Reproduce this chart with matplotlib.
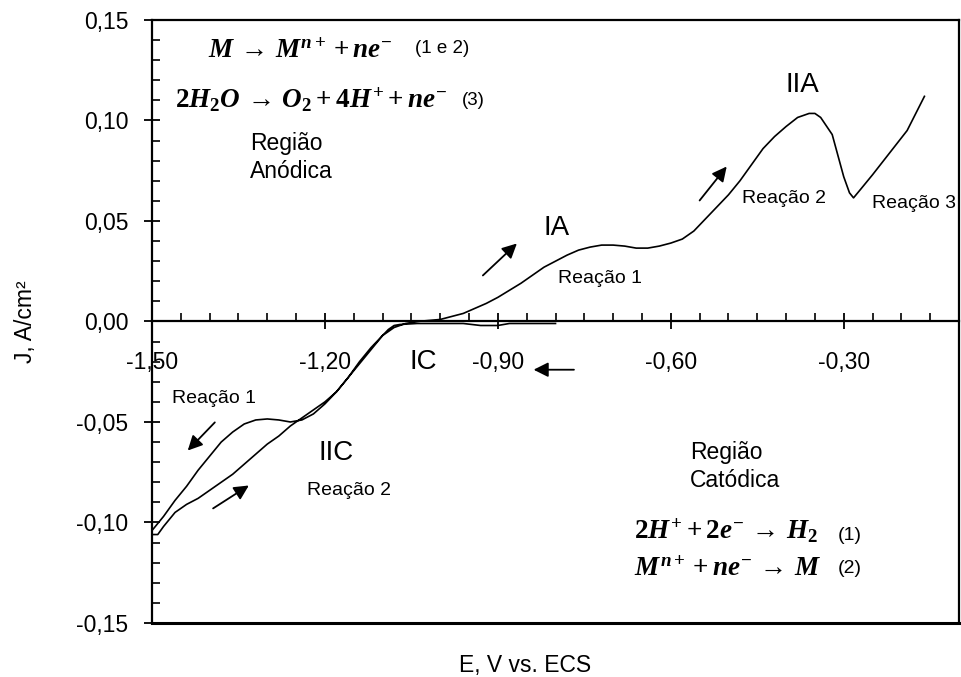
import matplotlib
matplotlib.use("Agg")
from matplotlib import pyplot as plt
from matplotlib.ticker import MultipleLocator

plt.rcParams["font.family"] = ["Liberation Sans", "DejaVu Sans"]
plt.rcParams["mathtext.fontset"] = "custom"
plt.rcParams["mathtext.rm"] = "Liberation Serif:bold"
plt.rcParams["mathtext.it"] = "Liberation Serif:italic:bold"
plt.rcParams["mathtext.bf"] = "Liberation Serif:bold"

# cathodic sweep (from -0.80 V towards -1.50 V)
E_cat = [-0.80, -0.85, -0.88, -0.90, -0.93, -0.96, -1.00, -1.04, -1.07, -1.08,
         -1.09, -1.10, -1.12, -1.14, -1.16, -1.18, -1.20, -1.22, -1.24, -1.26,
         -1.28, -1.30, -1.32, -1.34, -1.36, -1.38, -1.40, -1.42, -1.44, -1.46,
         -1.48, -1.50]
J_cat = [-0.001, -0.001, -0.001, -0.002, -0.002, -0.001, -0.001, -0.001, -0.0015, -0.002,
         -0.004, -0.007, -0.014, -0.021, -0.028, -0.035, -0.041, -0.046, -0.049, -0.050,
         -0.049, -0.0485, -0.049, -0.051, -0.055, -0.060, -0.067, -0.074, -0.082, -0.089,
         -0.097, -0.104]

# anodic sweep (from -1.50 V back up to -0.16 V)
E_an = [-1.50, -1.49, -1.48, -1.46, -1.44, -1.42, -1.40, -1.38, -1.36, -1.34,
        -1.32, -1.30, -1.28, -1.26, -1.24, -1.22, -1.20, -1.18, -1.16, -1.14,
        -1.12, -1.10, -1.08, -1.06, -1.04, -1.00, -0.96, -0.94, -0.92, -0.90,
        -0.88, -0.86, -0.84, -0.82, -0.80, -0.78, -0.76, -0.74, -0.72, -0.70,
        -0.68, -0.66, -0.64, -0.62, -0.60, -0.58, -0.56, -0.54, -0.52, -0.50,
        -0.48, -0.46, -0.44, -0.42, -0.40, -0.38, -0.36, -0.35, -0.34, -0.32,
        -0.30, -0.29, -0.283, -0.27, -0.25, -0.22, -0.19, -0.16]
J_an = [-0.106, -0.106, -0.102, -0.095, -0.091, -0.088, -0.084, -0.080, -0.076, -0.071,
        -0.066, -0.061, -0.057, -0.052, -0.048, -0.044, -0.040, -0.035, -0.028, -0.020,
        -0.013, -0.007, -0.003, -0.001, 0.000, 0.001, 0.004, 0.0065, 0.009, 0.012,
        0.0155, 0.019, 0.023, 0.027, 0.030, 0.033, 0.0355, 0.037, 0.038, 0.038,
        0.0375, 0.0365, 0.0365, 0.0375, 0.039, 0.041, 0.045, 0.051, 0.057, 0.063,
        0.070, 0.078, 0.086, 0.092, 0.097, 0.1015, 0.1035, 0.1035, 0.1015, 0.093,
        0.072, 0.064, 0.0615, 0.066, 0.073, 0.084, 0.095, 0.112]

xticks = [-1.50, -1.20, -0.90, -0.60, -0.30]
xticklabels = ["-1,50", "-1,20", "-0,90", "-0,60", "-0,30"]
yticks = [-0.15, -0.10, -0.05, 0.00, 0.05, 0.10, 0.15]
yticklabels = ["-0,15", "-0,10", "-0,05", "0,00", "0,05", "0,10", "0,15"]

fig = plt.figure(figsize=(9.62, 6.77), dpi=100)
ax = fig.add_axes([0.158, 0.0798, 0.8389, 0.8907])

ax.plot(E_cat + E_an, J_cat + J_an, color="k", lw=1.2)

ax.set_xlim(-1.5, -0.1)
ax.set_ylim(-0.15, 0.15)

# x axis crosses at J = 0, frame kept around the plot
ax.spines["bottom"].set_position(("data", 0))
for s in ax.spines.values():
    s.set_linewidth(1.6)
ax.plot([0, 1], [0, 0], transform=ax.transAxes, color="k", lw=2.2, clip_on=False)

ax.set_xticks(xticks)
ax.set_xticklabels(xticklabels)
ax.set_yticks(yticks)
ax.set_yticklabels(yticklabels)
ax.xaxis.set_minor_locator(MultipleLocator(0.05))
ax.yaxis.set_minor_locator(MultipleLocator(0.01))
ax.tick_params(which="major", direction="inout", length=12, width=1.3,
               labelsize=16.5)
ax.tick_params(axis="x", which="major", pad=15)
ax.tick_params(axis="y", which="major", pad=11)
ax.tick_params(which="minor", direction="in", length=6, width=1.2)

ax.set_ylabel("J, A/cm²", fontsize=16.5)
ax.yaxis.set_label_coords(-0.142, 0.5)
ax.set_xlabel("E, V vs. ECS", fontsize=16.5)
ax.xaxis.set_label_coords(0.462, -0.051)

# equations and labels
eq_kw = dict(fontsize=19.5, va="center", ha="left")
ax.text(-1.403, 0.1348, r"$M \,\rightarrow\, M^{n+} + ne^{-}$", **eq_kw)
ax.text(-1.044, 0.1358, "(1 e 2)", fontsize=13.5, va="center")
ax.text(-1.460, 0.1100, r"$2H_2O \,\rightarrow\, O_2 + 4H^{+} + ne^{-}$", **eq_kw)
ax.text(-0.962, 0.1100, "(3)", fontsize=13.5, va="center")
ax.text(-1.330, 0.0816, "Região\nAnódica", fontsize=16.5, va="center",
        linespacing=1.3)

ax.text(-0.799, 0.0463, "IA", fontsize=20, ha="center", va="center")
ax.text(-0.796, 0.0214, "Reação 1", fontsize=14, va="center")
ax.text(-0.371, 0.1174, "IIA", fontsize=20, ha="center", va="center")
ax.text(-0.477, 0.0612, "Reação 2", fontsize=14, va="center")
ax.text(-0.251, 0.0587, "Reação 3", fontsize=14, va="center")

ax.text(-1.053, -0.0204, "IC", fontsize=20, va="center")
ax.text(-1.465, -0.0383, "Reação 1", fontsize=14, va="center")
ax.text(-1.212, -0.0652, "IIC", fontsize=20, va="center")
ax.text(-1.231, -0.0841, "Reação 2", fontsize=14, va="center")

ax.text(-0.567, -0.0721, "Região\nCatódica", fontsize=16.5, va="center",
        linespacing=1.3)
ax.text(-0.663, -0.1040, r"$2H^{+} + 2e^{-} \,\rightarrow\, H_2$", **eq_kw)
ax.text(-0.311, -0.1065, "(1)", fontsize=14, va="center")
ax.text(-0.663, -0.1229, r"$M^{n+} + ne^{-} \,\rightarrow\, M$", **eq_kw)
ax.text(-0.311, -0.1229, "(2)", fontsize=14, va="center")

# sweep direction arrows
arrows = [
    ((-0.926, 0.0229), (-0.867, 0.0388)),
    ((-0.550, 0.0602), (-0.503, 0.0771)),
    ((-1.391, -0.0502), (-1.438, -0.0642)),
    ((-1.394, -0.0930), (-1.332, -0.0816)),
    ((-0.768, -0.0240), (-0.838, -0.0240)),
]
for tail, head in arrows:
    ax.annotate("", xy=head, xytext=tail,
                arrowprops=dict(arrowstyle="-|>", color="k", lw=1.3,
                                mutation_scale=22, shrinkA=0, shrinkB=0))

fig.savefig("out.png", dpi=100)
